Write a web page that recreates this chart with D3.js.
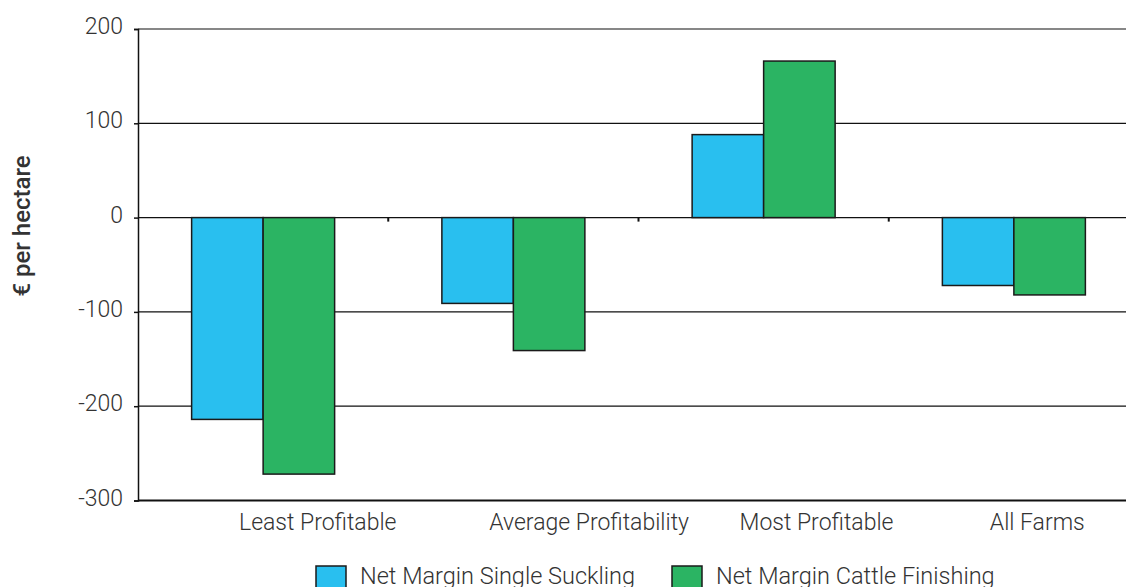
<!DOCTYPE html>
<html>
<head>
<meta charset="utf-8">
<script src="https://cdn.jsdelivr.net/npm/d3@7"></script>
<style>
  body { margin: 0; background: #fff; }
  text { font-family: Roboto, "Liberation Sans", sans-serif; fill: #333; }
</style>
</head>
<body>
<div id="chart"></div>
<script>
// Data
var categories = ["Least Profitable", "Average Profitability", "Most Profitable", "All Farms"];
var seriesNames = ["Net Margin Single Suckling", "Net Margin Cattle Finishing"];
var singleSuckling = [-214, -91, 88, -72];
var cattleFinishing = [-272, -141, 166, -82];
var yTicks = [200, 100, 0, -100, -200, -300];
var colors = ["#29bfef", "#2bb463"];

var svgWidth = 1126;
var svgHeight = 587;

var svg = d3.select("#chart")
  .append("svg")
  .attr("width", svgWidth)
  .attr("height", svgHeight);

// Scales
var x0 = d3.scaleBand()
  .domain(categories)
  .range([138, 1139])
  .padding(0);

var x1 = d3.scaleBand()
  .domain(seriesNames)
  .range([0, x0.bandwidth()])
  .paddingInner(0)
  .paddingOuter(0.75);

var y = d3.scaleLinear()
  .domain([-300, 200])
  .range([500.5, 29]);

var rows = categories.map(function(c, i) {
  return { cat: c, values: [singleSuckling[i], cattleFinishing[i]] };
});

// Gridlines
svg.append("g")
  .selectAll("line")
  .data(yTicks)
  .enter()
  .append("line")
  .attr("x1", 138)
  .attr("x2", svgWidth)
  .attr("y1", d => y(d))
  .attr("y2", d => y(d))
  .attr("stroke", "#111")
  .attr("stroke-width", d => d === -300 ? 2 : 1.2);

// Left axis
var leftAxis = d3.axisLeft(y)
  .tickValues(yTicks)
  .tickSize(4)
  .tickPadding(11)
  .tickFormat(d => String(d));

var yAxis = svg.append("g")
  .attr("transform", "translate(138,0)")
  .call(leftAxis);

yAxis.select(".domain").attr("stroke", "#111").attr("stroke-width", 1.5);
yAxis.selectAll(".tick line").attr("stroke", "#111").attr("stroke-width", 1.5);
yAxis.selectAll("text")
  .attr("font-size", 23)
  .attr("font-weight", 300)
  .attr("fill", "#333")
  .attr("dy", "0.2em")
  .style("font-family", "Roboto, sans-serif");

// Ticks on the zero line at the category boundaries
svg.append("g")
  .selectAll("line")
  .data(categories.slice(1))
  .enter()
  .append("line")
  .attr("x1", d => x0(d))
  .attr("x2", d => x0(d))
  .attr("y1", y(0))
  .attr("y2", y(0) + 4)
  .attr("stroke", "#111")
  .attr("stroke-width", 2);

// Bars
var groups = svg.append("g")
  .selectAll("g")
  .data(rows)
  .enter()
  .append("g")
  .attr("transform", d => `translate(${x0(d.cat)},0)`);

groups.selectAll("rect")
  .data(d => d.values.map(function(v, i) { return { name: seriesNames[i], value: v, i: i }; }))
  .enter()
  .append("rect")
  .attr("x", d => x1(d.name))
  .attr("width", x1.bandwidth())
  .attr("y", d => y(Math.max(0, d.value)))
  .attr("height", d => Math.abs(y(d.value) - y(0)))
  .attr("fill", d => colors[d.i])
  .attr("stroke", "#1a1a1a")
  .attr("stroke-width", 1.5);

// Category labels
svg.append("g")
  .selectAll("text")
  .data(categories)
  .enter()
  .append("text")
  .attr("x", d => x0(d) + 101)
  .attr("y", 530)
  .attr("font-size", 23)
  .attr("font-weight", 300)
  .text(d => d);

// Y axis title
svg.append("text")
  .attr("transform", "translate(30,226) rotate(-90)")
  .attr("text-anchor", "middle")
  .attr("font-size", 24)
  .attr("font-weight", 500)
  .attr("fill", "#222")
  .text("€ per hectare");

// Legend
var legend = svg.append("g")
  .selectAll("g")
  .data(seriesNames)
  .enter()
  .append("g")
  .attr("transform", (d, i) => `translate(${316 + i * 356},566)`);

legend.append("rect")
  .attr("width", 30)
  .attr("height", 24)
  .attr("fill", (d, i) => colors[i])
  .attr("stroke", "#1a1a1a")
  .attr("stroke-width", 1.5);

legend.append("text")
  .attr("x", 44)
  .attr("y", 17.5)
  .attr("font-size", 23.5)
  .attr("font-weight", 300)
  .text(d => d);
</script>
</body>
</html>
